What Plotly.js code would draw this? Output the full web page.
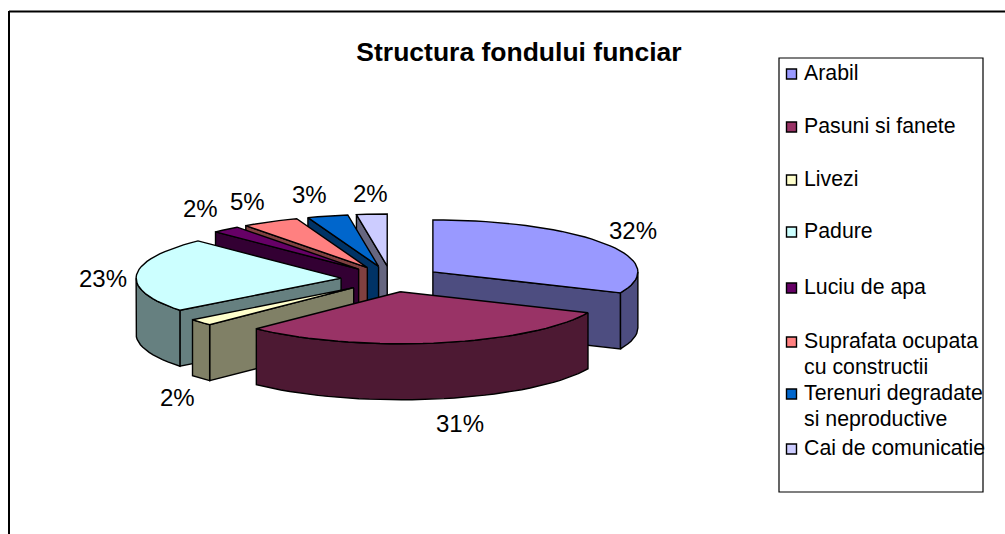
<!DOCTYPE html>
<html><head><meta charset="utf-8">
<script src="https://cdn.plot.ly/plotly-3.0.1.min.js"></script>
<style>html,body{margin:0;padding:0;background:#fff}#c{width:1005px;height:534px}</style></head>
<body><div id="c"></div>
<script>
const categories = ["Arabil","Pasuni si fanete","Livezi","Padure","Luciu de apa","Suprafata ocupata cu constructii","Terenuri degradate si neproductive","Cai de comunicatie"];
const shares = [31.6, 30.8, 2.0, 23.3, 2.2, 4.5, 3.2, 2.4];
const topColors = ["#9999FF","#993366","#FFFFCC","#CCFFFF","#660066","#FF8080","#0066CC","#CCCCFF"];
const sideColors = ["#4D4D80","#4D1933","#808066","#668080","#330033","#804040","#003366","#666680"];
const legendLines = [["Arabil"],["Pasuni si fanete"],["Livezi"],["Padure"],["Luciu de apa"],["Suprafata ocupata","cu constructii"],["Terenuri degradate","si neproductive"],["Cai de comunicatie"]];

// projection settings (in axis units, the axes span the page)
const cx=391, cy=279, rx=205, ry=52, ex=50, ey=13, depth=56;
const legendY=[74,127,180,232,288,342,394,449], legendLH=26;
const labelNudge=[[28,-13],[21,81],[-23,75],[-34,4],[-26,-21],[-23,-20],[-18,-22],[-1,-21]];
const rad=d=>d*Math.PI/180;
const total=shares.reduce((a,b)=>a+b,0);

let acc=0;
const slices=shares.map((v,i)=>{
  const a0=acc/total*360; acc+=v; const a1=acc/total*360; const mid=(a0+a1)/2;
  return {i,a0,a1,mid,ax:cx+ex*Math.sin(rad(mid)),ay:cy-ey*Math.cos(rad(mid))};
});
const rim=(s,a)=>[s.ax+rx*Math.sin(rad(a)),s.ay-ry*Math.cos(rad(a))];
function poly(pts,color){
  return {type:"scatter",mode:"lines",x:pts.map(p=>p[0]),y:pts.map(p=>p[1]),fill:"toself",fillcolor:color,
    line:{color:"#000",width:1.4},hoverinfo:"skip",showlegend:false};
}
function arc(s,a,b){const n=Math.max(2,Math.ceil((b-a)/3));const o=[];for(let k=0;k<=n;k++)o.push(rim(s,a+(b-a)*k/n));return o;}
const down=p=>[p[0],p[1]+depth];
const traces=[];
// painter's order, back to front
[7,6,5,4,0,3,2,1].forEach(i=>{
  const s=slices[i], A=[s.ax,s.ay], side=sideColors[i];
  if(Math.sin(rad(s.a0))<0){const r=rim(s,s.a0);traces.push(poly([A,r,down(r),down(A),A],side));}
  if(Math.sin(rad(s.a1))>0.0001){const r=rim(s,s.a1);traces.push(poly([A,r,down(r),down(A),A],side));}
  const f0=Math.max(s.a0,90), f1=Math.min(s.a1,270);
  if(f1>f0){const t=arc(s,f0,f1);traces.push(poly(t.concat(t.slice().reverse().map(down),[t[0]]),side));}
  const top=[A].concat(arc(s,s.a0,s.a1),[A]);
  traces.push(poly(top,topColors[i]));
});
// legend swatches
traces.push({type:"scatter",mode:"markers",x:categories.map(()=>791.5),y:legendY,
  marker:{symbol:"square",size:10,color:topColors,line:{color:"#000",width:1.4}},hoverinfo:"skip",showlegend:false});

const ann=[];
const F="Liberation Sans, Arial, sans-serif";
slices.forEach((s,i)=>{
  const r=rim(s,s.mid);
  ann.push({x:r[0]+labelNudge[i][0],y:r[1]+labelNudge[i][1],text:Math.round(shares[i])+"%",showarrow:false,
    xanchor:"center",yanchor:"middle",font:{family:F,size:24,color:"#000"}});
});
legendLines.forEach((ls,i)=>ls.forEach((t,j)=>{
  ann.push({x:804,y:legendY[i]+j*legendLH-1,text:t,showarrow:false,xanchor:"left",yanchor:"middle",xshift:-2,
    font:{family:F,size:21.3,color:"#000"}});
}));
const layout={width:1005,height:534,margin:{l:0,r:0,t:0,b:0},paper_bgcolor:"#fff",plot_bgcolor:"#fff",showlegend:false,
  title:{text:"<b>Structura fondului funciar</b>",x:519/1005,xanchor:"center",y:1-52/534,yanchor:"middle",font:{family:F,size:26.5,color:"#000"}},
  xaxis:{range:[0,1005],visible:false,fixedrange:true},
  yaxis:{range:[534,0],visible:false,fixedrange:true},
  annotations:ann,
  shapes:[
    {type:"line",x0:9,x1:9,y0:11,y1:534,line:{color:"#000",width:2}},
    {type:"line",x0:9,x1:1005,y0:11.5,y1:11.5,line:{color:"#000",width:2}},
    {type:"rect",x0:779,x1:983,y0:58,y1:492,line:{color:"#000",width:1.2},fillcolor:"rgba(0,0,0,0)",layer:"below"}
  ]};
Plotly.newPlot("c",traces,layout,{displayModeBar:false,staticPlot:true});
</script></body></html>
